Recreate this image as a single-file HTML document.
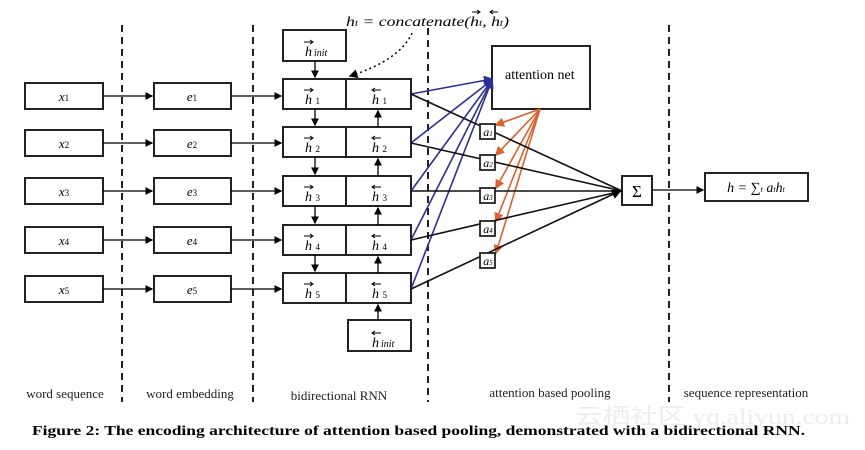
<!DOCTYPE html>
<html><head><style>
body{margin:0;background:#fff;width:865px;height:445px;overflow:hidden}
svg text{font-family:"Liberation Serif",serif}
</style></head><body>
<svg width="865" height="445" viewBox="0 0 865 445">
<defs>
<marker id="ak" markerWidth="6" markerHeight="6" refX="5" refY="3" orient="auto"><path d="M0,0 L6,3 L0,6z" fill="#000"/></marker>
<marker id="ab" markerWidth="6" markerHeight="6" refX="5" refY="3" orient="auto"><path d="M0,0 L6,3 L0,6z" fill="#2b2f9a"/></marker>
<marker id="ao" markerWidth="6" markerHeight="6" refX="5" refY="3" orient="auto"><path d="M0,0 L6,3 L0,6z" fill="#e0602a"/></marker>
</defs>
<g stroke="#222" stroke-width="2" stroke-dasharray="7,5">
<line x1="122" y1="25" x2="122" y2="402"/><line x1="253" y1="25" x2="253" y2="402"/>
<line x1="428" y1="28" x2="428" y2="402"/><line x1="669" y1="25" x2="669" y2="402"/>
</g>
<g fill="none" stroke="#222" stroke-width="2">
<rect x="25" y="83" width="78" height="26"/><rect x="25" y="130" width="78" height="26"/><rect x="25" y="178" width="78" height="26"/><rect x="25" y="227" width="78" height="26"/><rect x="25" y="276" width="78" height="26"/>
<rect x="154" y="83" width="77" height="26"/><rect x="154" y="130" width="77" height="26"/><rect x="154" y="178" width="77" height="26"/><rect x="154" y="227" width="77" height="26"/><rect x="154" y="276" width="77" height="26"/>
<rect x="283" y="30" width="63" height="31"/>
<rect x="283" y="79" width="63" height="30"/><rect x="346" y="79" width="65" height="30"/>
<rect x="283" y="127" width="63" height="30"/><rect x="346" y="127" width="65" height="30"/>
<rect x="283" y="176" width="63" height="30"/><rect x="346" y="176" width="65" height="30"/>
<rect x="283" y="225" width="63" height="30"/><rect x="346" y="225" width="65" height="30"/>
<rect x="283" y="273" width="63" height="30"/><rect x="346" y="273" width="65" height="30"/>
<rect x="348" y="320" width="63" height="31"/>
<rect x="492" y="46" width="98" height="63"/>
<rect x="622" y="176" width="30" height="29"/>
<rect x="705" y="173" width="103" height="28"/>
</g>
<g stroke="#000" stroke-width="1.3" marker-end="url(#ak)">
<line x1="103" y1="96" x2="152" y2="96"/><line x1="103" y1="143" x2="152" y2="143"/><line x1="103" y1="191" x2="152" y2="191"/><line x1="103" y1="240" x2="152" y2="240"/><line x1="103" y1="289" x2="152" y2="289"/>
<line x1="231" y1="96" x2="281" y2="96"/><line x1="231" y1="143" x2="281" y2="143"/><line x1="231" y1="191" x2="281" y2="191"/><line x1="231" y1="240" x2="281" y2="240"/><line x1="231" y1="289" x2="281" y2="289"/>
<line x1="315" y1="61" x2="315" y2="77"/><line x1="315" y1="109" x2="315" y2="125"/><line x1="315" y1="157" x2="315" y2="174"/><line x1="315" y1="206" x2="315" y2="223"/><line x1="315" y1="255" x2="315" y2="271"/>
<line x1="378" y1="320" x2="378" y2="305"/><line x1="378" y1="273" x2="378" y2="257"/><line x1="378" y1="225" x2="378" y2="208"/><line x1="378" y1="176" x2="378" y2="159"/><line x1="378" y1="127" x2="378" y2="111"/>
<line x1="652" y1="190" x2="703" y2="190"/>
</g>
<path d="M412,33 Q400,60 350,76" fill="none" stroke="#000" stroke-width="1.5" stroke-dasharray="2,3" marker-end="url(#ak)"/>
<g stroke="#2b2f9a" stroke-width="1.6" marker-end="url(#ab)">
<line x1="411" y1="94" x2="492" y2="79"/><line x1="411" y1="143" x2="492" y2="80"/><line x1="411" y1="191" x2="492" y2="80"/><line x1="411" y1="240" x2="492" y2="80"/><line x1="411" y1="289" x2="492" y2="80"/>
</g>
<g stroke="#e0602a" stroke-width="1.6" marker-end="url(#ao)">
<line x1="540" y1="109" x2="496" y2="125"/><line x1="540" y1="109" x2="496" y2="155"/><line x1="540" y1="109" x2="496" y2="188"/><line x1="540" y1="109" x2="496" y2="221"/><line x1="540" y1="109" x2="496" y2="253"/>
</g>
<g stroke="#111" stroke-width="1.6">
<line x1="411" y1="94" x2="622" y2="191"/><line x1="411" y1="143" x2="622" y2="191"/><line x1="411" y1="191" x2="622" y2="191"/><line x1="411" y1="240" x2="622" y2="191"/><line x1="411" y1="289" x2="620" y2="191" marker-end="url(#ak)"/>
</g>
<g fill="#fff" stroke="#222" stroke-width="1.8">
<rect x="480" y="124" width="15" height="15"/><rect x="480" y="155" width="15" height="15"/><rect x="480" y="188" width="15" height="15"/><rect x="480" y="221" width="15" height="15"/><rect x="480" y="253" width="15" height="15"/>
</g>
<g font-size="12" font-style="italic" text-anchor="middle">
<text x="488" y="136">a<tspan font-size="7">1</tspan></text><text x="488" y="167">a<tspan font-size="7">2</tspan></text><text x="488" y="200">a<tspan font-size="7">3</tspan></text><text x="488" y="233">a<tspan font-size="7">4</tspan></text><text x="488" y="265">a<tspan font-size="7">5</tspan></text>
</g>
<g font-size="13" font-style="italic" text-anchor="middle">
<text x="64" y="101">x<tspan font-size="9" font-style="normal">1</tspan></text><text x="64" y="148">x<tspan font-size="9" font-style="normal">2</tspan></text><text x="64" y="196">x<tspan font-size="9" font-style="normal">3</tspan></text><text x="64" y="245">x<tspan font-size="9" font-style="normal">4</tspan></text><text x="64" y="294">x<tspan font-size="9" font-style="normal">5</tspan></text>
<text x="192" y="101">e<tspan font-size="9" font-style="normal">1</tspan></text><text x="192" y="148">e<tspan font-size="9" font-style="normal">2</tspan></text><text x="192" y="196">e<tspan font-size="9" font-style="normal">3</tspan></text><text x="192" y="245">e<tspan font-size="9" font-style="normal">4</tspan></text><text x="192" y="294">e<tspan font-size="9" font-style="normal">5</tspan></text>
</g>
<g font-size="14" font-style="italic">
<text x="305" y="56">h<tspan font-size="10" dx="2">init</tspan></text>
<text x="372" y="347">h<tspan font-size="10" dx="2">init</tspan></text>
<text x="305" y="104">h <tspan font-size="9" font-style="normal">1</tspan></text><text x="372" y="104">h <tspan font-size="9" font-style="normal">1</tspan></text>
<text x="305" y="152">h <tspan font-size="9" font-style="normal">2</tspan></text><text x="372" y="152">h <tspan font-size="9" font-style="normal">2</tspan></text>
<text x="305" y="201">h <tspan font-size="9" font-style="normal">3</tspan></text><text x="372" y="201">h <tspan font-size="9" font-style="normal">3</tspan></text>
<text x="305" y="250">h <tspan font-size="9" font-style="normal">4</tspan></text><text x="372" y="250">h <tspan font-size="9" font-style="normal">4</tspan></text>
<text x="305" y="298">h <tspan font-size="9" font-style="normal">5</tspan></text><text x="372" y="298">h <tspan font-size="9" font-style="normal">5</tspan></text>
</g>
<g stroke="#000" stroke-width="1" fill="none">
<path d="M304,42h9m-3,-2l3,2l-3,2"/>
<path d="M381,333h-9m3,-2l-3,2l3,2"/>
<path d="M304,90h9m-3,-2l3,2l-3,2"/><path d="M381,90h-9m3,-2l-3,2l3,2"/>
<path d="M304,138h9m-3,-2l3,2l-3,2"/><path d="M381,138h-9m3,-2l-3,2l3,2"/>
<path d="M304,187h9m-3,-2l3,2l-3,2"/><path d="M381,187h-9m3,-2l-3,2l3,2"/>
<path d="M304,236h9m-3,-2l3,2l-3,2"/><path d="M381,236h-9m3,-2l-3,2l3,2"/>
<path d="M304,284h9m-3,-2l3,2l-3,2"/><path d="M381,284h-9m3,-2l-3,2l3,2"/>
<path d="M472,12h8m-3,-2l3,2l-3,2"/><path d="M498,12h-8m3,-2l-3,2l3,2"/>
</g>
<text x="346" y="26" font-size="14" font-style="italic" textLength="163" lengthAdjust="spacingAndGlyphs">h<tspan font-size="9">t</tspan> = concatenate(h<tspan font-size="9">t</tspan>, h<tspan font-size="9">t</tspan>)</text>
<text x="505" y="79" font-size="14">attention net</text>
<text x="637" y="197" font-size="17" text-anchor="middle">Σ</text>
<text x="756" y="192" font-size="14" font-style="italic" text-anchor="middle">h = ∑<tspan font-size="8">t</tspan> a<tspan font-size="8">t</tspan>h<tspan font-size="8">t</tspan></text>
<g font-size="13" text-anchor="middle" fill="#222">
<text x="65" y="398">word sequence</text><text x="190" y="398">word embedding</text><text x="339" y="400">bidirectional RNN</text><text x="550" y="397">attention based pooling</text><text x="746" y="397">sequence representation</text>
</g>
<text x="575" y="424" font-size="22" fill="#ececec" font-family="Liberation Sans,'Noto Sans CJK SC',sans-serif" textLength="275" lengthAdjust="spacingAndGlyphs">云栖社区 yq.aliyun.com</text>
<text x="32" y="435" font-size="13.5" font-weight="bold" textLength="773" lengthAdjust="spacingAndGlyphs">Figure 2: The encoding architecture of attention based pooling, demonstrated with a bidirectional RNN.</text>
</svg>
</body></html>
